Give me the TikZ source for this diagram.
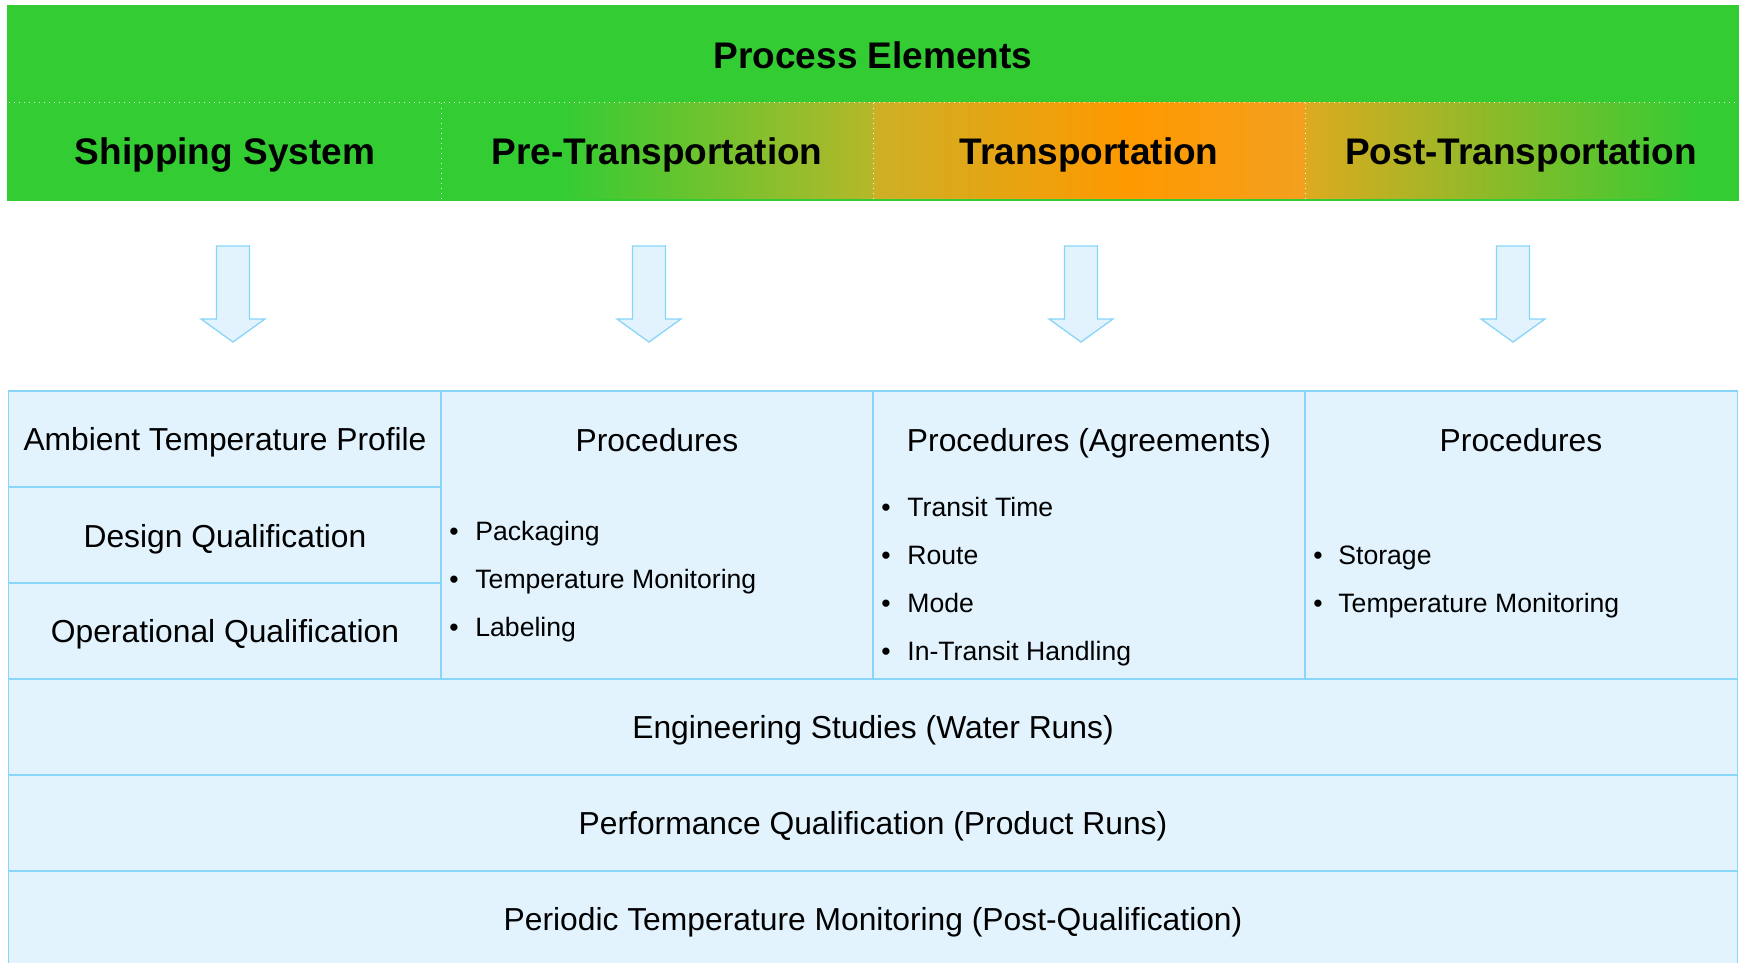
\documentclass[tikz,border=0pt]{standalone}
\usepackage{fontspec}
\setmainfont{Liberation Sans}

\definecolor{hdrgreen}{HTML}{33CC33}
\definecolor{hdrolive}{HTML}{B4B82A}
\definecolor{hdrgold}{HTML}{CCB026}
\definecolor{hdrorange}{HTML}{FF9900}
\definecolor{hdrlorange}{HTML}{F2A01E}
\definecolor{hdrtan}{HTML}{DDAA20}
\definecolor{cellblue}{HTML}{E2F3FE}
\definecolor{lineblue}{HTML}{88D4FA}

\tikzset{
  celltext/.style={anchor=base, inner sep=0pt, font=\fontsize{15.9}{19}\selectfont},
  hdrtext/.style={anchor=base, inner sep=0pt, font=\fontsize{18.5}{22}\selectfont\bfseries},
  itemtext/.style={anchor=base west, inner sep=0pt, font=\fontsize{13.3}{16}\selectfont},
  itembullet/.style={anchor=base, inner sep=0pt, font=\fontsize{13.3}{16}\selectfont},
  tablines/.style={draw=lineblue, line width=0.75pt},
  dotsep/.style={white, dotted, line width=0.5pt, opacity=0.85},
}

\begin{document}
\begin{tikzpicture}[x=0.5pt, y=-0.5pt]
      \useasboundingbox (0,0) rectangle (1741,963);

      % header band
      \fill[hdrgreen] (6.5,5.5) rectangle (1739,201);
      \shade[left color=hdrgreen, right color=hdrolive] (560,103) rectangle (873,198);
      \shade[left color=hdrgold, right color=hdrorange] (873,103) rectangle (1130,198);
      \shade[left color=hdrorange, right color=hdrlorange] (1130,103) rectangle (1305,198);
      \shade[left color=hdrtan, right color=hdrgreen] (1305,103) rectangle (1700,198);

      % dotted separators
      \draw[dotsep] (9,102.5) -- (1735,102.5);
      \foreach \xs in {441,873,1305}
        \draw[dotsep] (\xs,103) -- (\xs,199);

      % header texts
      \node[hdrtext] (elements) at (873,69) {Process Elements};
      \node[hdrtext] (shipping) at (225,164) {Shipping System};
      \node[hdrtext] (pretrans) at (657,164) {Pre-Transportation};
      \node[hdrtext] (trans) at (1089,164) {Transportation};
      \node[hdrtext] (posttrans) at (1521,164) {Post-Transportation};

      % down arrows
      \foreach \cx in {233,649,1081,1513}
        \draw[fill=cellblue, draw=lineblue, line width=0.65pt, line join=miter]
          ({\cx-16.5},246) -- ({\cx+16.5},246) -- ({\cx+16.5},319) -- ({\cx+32},319)
          -- (\cx,342) -- ({\cx-32},319) -- ({\cx-16.5},319) -- cycle;

      % table
      \fill[cellblue] (8.5,391) rectangle (1737.5,963);
      \draw[tablines] (8.5,963) -- (8.5,391) -- (1737.5,391) -- (1737.5,963);
      \draw[tablines] (8.5,487) -- (441,487);
      \draw[tablines] (8.5,583) -- (441,583);
      \foreach \ys in {679,775,871}
        \draw[tablines] (8.5,\ys) -- (1737.5,\ys);
      \foreach \xs in {441,873,1305}
        \draw[tablines] (\xs,391) -- (\xs,679);

      % first column
      \node[celltext] (ambient) at (225,450) {Ambient Temperature Profile};
      \node[celltext] (design) at (225,547) {Design Qualification};
      \node[celltext] (oper) at (225,642) {Operational Qualification};

      % procedures
      \node[celltext] (procpre) at (657,451) {Procedures};
      \node[celltext] (proctrans) at (1089,451) {Procedures (Agreements)};
      \node[celltext] (procpost) at (1521,451) {Procedures};

      \node[itembullet] at (454,540) {•};
      \node[itemtext] (packaging) at (475,540) {Packaging};
      \node[itembullet] at (454,588) {•};
      \node[itemtext] (tmonpre) at (475,588) {Temperature Monitoring};
      \node[itembullet] at (454,636) {•};
      \node[itemtext] (labeling) at (475,636) {Labeling};

      \node[itembullet] at (886,516) {•};
      \node[itemtext] (transit) at (907,516) {Transit Time};
      \node[itembullet] at (886,564) {•};
      \node[itemtext] (route) at (907,564) {Route};
      \node[itembullet] at (886,612) {•};
      \node[itemtext] (mode) at (907,612) {Mode};
      \node[itembullet] at (886,660) {•};
      \node[itemtext] (handling) at (907,660) {In-Transit Handling};

      \node[itembullet] at (1318,564) {•};
      \node[itemtext] (storage) at (1338,564) {Storage};
      \node[itembullet] at (1318,612) {•};
      \node[itemtext] (tmonpost) at (1338,612) {Temperature Monitoring};

      % full width rows
      \node[celltext] (engstudies) at (873,738) {Engineering Studies (Water Runs)};
      \node[celltext] (perfqual) at (873,834) {Performance Qualification (Product Runs)};
      \node[celltext] (periodic) at (873,930) {Periodic Temperature Monitoring (Post-Qualification)};
    \end{tikzpicture}
\end{document}
